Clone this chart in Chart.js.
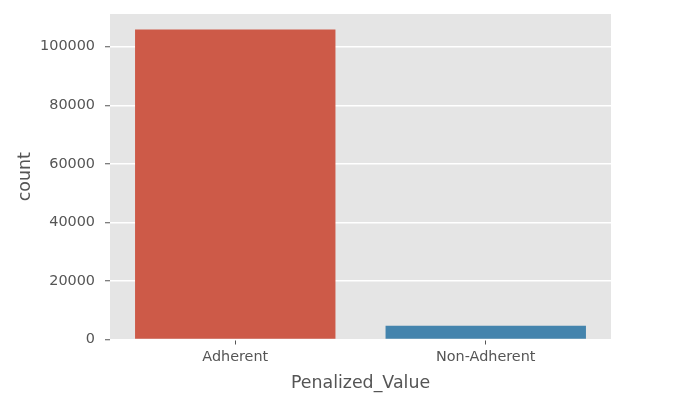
<!DOCTYPE html>
<html>
<head>
<meta charset="utf-8">
<script src="https://cdn.jsdelivr.net/npm/chart.js@4"></script>
<style>
  html, body { margin: 0; padding: 0; background: #ffffff; }
  #wrap { width: 699px; height: 411px; }
</style>
</head>
<body>
<div id="wrap"><canvas id="c" width="699" height="411"></canvas></div>
<script>
const categories = ['Adherent', 'Non-Adherent'];
const counts = [105900, 4700];
const barColors = ['#CD5A48', '#4484AD'];
const yTicks = [0, 20000, 40000, 60000, 80000, 100000];
const yMax = 111170;
const xTitle = 'Penalized_Value';
const yTitle = 'count';

const textColor = '#555555';
const family = 'DejaVu Sans';
const tickSize = 14.4;
const titleSize = 17.4;

const bgPlugin = {
  id: 'bg',
  beforeDraw(chart) {
    const { ctx, chartArea: a } = chart;
    ctx.save();
    ctx.fillStyle = '#E5E5E5';
    ctx.fillRect(a.left, a.top, a.right - a.left, a.bottom - a.top);
    ctx.restore();
  }
};

new Chart(document.getElementById('c'), {
  type: 'bar',
  data: {
    labels: categories,
    datasets: [{
      data: counts,
      backgroundColor: barColors,
      borderWidth: 0,
      categoryPercentage: 1.0,
      barPercentage: 0.8
    }]
  },
  options: {
    responsive: false,
    animation: false,
    devicePixelRatio: 1,
    layout: { padding: { left: 0, right: 88, top: 14, bottom: 0 } },
    plugins: { legend: { display: false }, tooltip: { enabled: false } },
    scales: {
      x: {
        type: 'category',
        offset: true,
        grid: { offset: false, color: 'rgba(0,0,0,0)', drawTicks: true, tickLength: 5, tickColor: '#555555', tickWidth: 1 },
        border: { display: false },
        ticks: { color: textColor, font: { family: family, size: tickSize }, padding: 3.8, maxRotation: 0 },
        title: { display: true, text: xTitle, color: textColor, font: { family: family, size: titleSize }, padding: { top: 0, bottom: 17.5 } },
        afterFit(scale) {
          scale.height = 71.5;
          scale.paddingLeft = 0; scale.paddingRight = 0;
        }
      },
      y: {
        min: 0,
        max: yMax,
        grid: { color: '#FFFFFF', lineWidth: 1.5, drawTicks: true, tickLength: 5, tickColor: '#555555', tickWidth: 1 },
        border: { display: false },
        ticks: {
          color: textColor,
          font: { family: family, size: tickSize },
          padding: 10,
          autoSkip: false,
          callback: (v) => String(v)
        },
        afterBuildTicks(scale) {
          scale.ticks = yTicks.map(v => ({ value: v }));
        },
        title: { display: true, text: yTitle, color: textColor, font: { family: family, size: titleSize }, padding: { top: 14.6, bottom: 0 } },
        afterFit(scale) {
          scale.width = 110;
          scale.paddingTop = 0; scale.paddingBottom = 0;
        }
      }
    }
  },
  plugins: [bgPlugin]
});
</script>
</body>
</html>
